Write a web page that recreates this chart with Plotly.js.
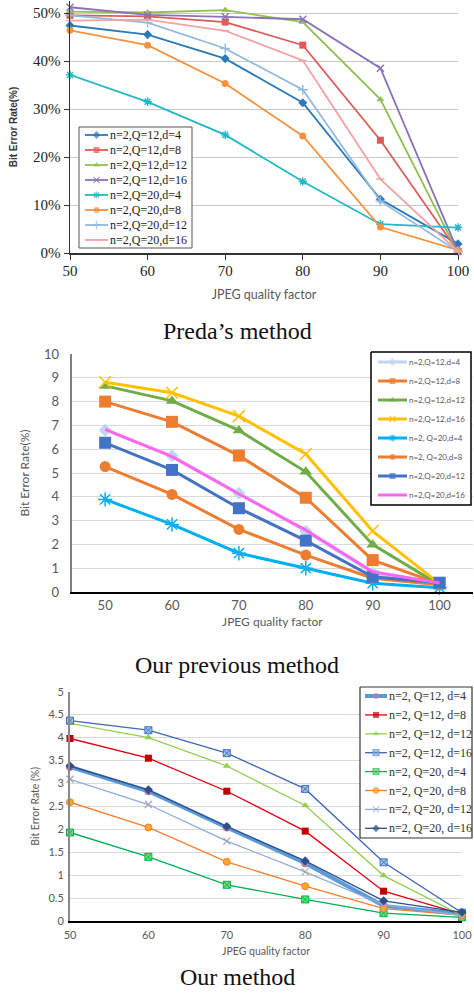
<!DOCTYPE html>
<html>
<head>
<meta charset="utf-8">
<script src="https://cdn.plot.ly/plotly-3.0.1.min.js"></script>
<style>html,body{margin:0;padding:0;background:#fff;}#chart{width:474px;height:996px;}</style>
</head>
<body>
<div id="chart"></div>
<script>
// ---------------- data ----------------
const qualityFactors = [50, 60, 70, 80, 90, 100];

// Preda's method (percent)
const namesPreda = ['n=2,Q=12,d=4','n=2,Q=12,d=8','n=2,Q=12,d=12','n=2,Q=12,d=16','n=2,Q=20,d=4','n=2,Q=20,d=8','n=2,Q=20,d=12','n=2,Q=20,d=16'];
const predaQ12d4  = [47.4, 45.5, 40.5, 31.3, 11.2, 1.9];
const predaQ12d8  = [49.5, 49.3, 48.1, 43.3, 23.5, 0.3];
const predaQ12d12 = [50.3, 50.1, 50.6, 48.1, 32.0, 0.0];
const predaQ12d16 = [51.2, 49.6, 49.2, 48.7, 38.5, 0.3];
const predaQ20d4  = [37.1, 31.5, 24.6, 14.9, 6.0, 5.3];
const predaQ20d8  = [46.4, 43.3, 35.3, 24.4, 5.4, 0.6];
const predaQ20d12 = [49.5, 48.0, 42.6, 34.0, 10.8, 0.3];
const predaQ20d16 = [48.4, 48.6, 46.3, 40.1, 15.4, 0.3];

// Our previous method
const namesPrev = ['n=2,Q=12,d=4','n=2,Q=12,d=8','n=2,Q=12,d=12','n=2,Q=12,d=16','n=2, Q=20,d=4','n=2, Q=20,d=8','n=2,Q=20,d=12','n=2,Q=20,d=16'];
const prevQ12d4  = [6.80, 5.72, 4.15, 2.55, 0.80, 0.30];
const prevQ12d8  = [8.00, 7.15, 5.73, 3.96, 1.34, 0.35];
const prevQ12d12 = [8.66, 8.03, 6.79, 5.05, 1.99, 0.30];
const prevQ12d16 = [8.81, 8.37, 7.39, 5.80, 2.56, 0.35];
const prevQ20d4  = [3.89, 2.84, 1.63, 1.00, 0.37, 0.18];
const prevQ20d8  = [5.27, 4.10, 2.63, 1.55, 0.58, 0.30];
const prevQ20d12 = [6.27, 5.13, 3.52, 2.16, 0.64, 0.39];
const prevQ20d16 = [6.83, 5.69, 4.12, 2.60, 0.85, 0.38];

// Our method
const namesOur = ['n=2, Q=12, d=4','n=2, Q=12, d=8','n=2, Q=12, d=12','n=2, Q=12, d=16','n=2, Q=20, d=4','n=2, Q=20, d=8','n=2, Q=20, d=12','n=2, Q=20, d=16'];
const ourQ12d4  = [3.36, 2.83, 2.04, 1.26, 0.33, 0.15];
const ourQ12d8  = [3.98, 3.55, 2.83, 1.96, 0.65, 0.15];
const ourQ12d12 = [4.31, 4.00, 3.38, 2.52, 0.99, 0.12];
const ourQ12d16 = [4.37, 4.16, 3.66, 2.88, 1.28, 0.18];
const ourQ20d4  = [1.93, 1.40, 0.79, 0.47, 0.17, 0.08];
const ourQ20d8  = [2.59, 2.04, 1.29, 0.76, 0.27, 0.13];
const ourQ20d12 = [3.09, 2.54, 1.74, 1.07, 0.35, 0.12];
const ourQ20d16 = [3.38, 2.86, 2.06, 1.31, 0.44, 0.19];

const predaTicks = [0, 10, 20, 30, 40, 50];
const predaTickText = ['0%', '10%', '20%', '30%', '40%', '50%'];
const captions = ["Preda\u2019s method", "Our previous method", "Our method"];
const xTitle = 'JPEG quality factor';

// ---------------- styles ----------------
const W = 474, H = 996;
const SERIF = 'Liberation Serif, Times New Roman, serif';
const SANS = 'Lato, Open Sans, sans-serif';

const predaSeries = [predaQ12d4, predaQ12d8, predaQ12d12, predaQ12d16, predaQ20d4, predaQ20d8, predaQ20d12, predaQ20d16];
const predaStyle = [
  {c:'#2a7ab8', sym:'diamond', s:7},
  {c:'#dc5c5a', sym:'square', s:7},
  {c:'#92bf55', sym:'triangle-up', s:7},
  {c:'#8a72b8', sym:'x-thin-open', s:7, lw:1.4},
  {c:'#22b8c8', sym:'asterisk-open', s:7, lw:1.4},
  {c:'#f5923e', sym:'circle', s:7},
  {c:'#92badf', sym:'cross-thin-open', s:7, lw:1.4},
  {c:'#f2a3a3', sym:'line-ew-open', s:6, lw:1.4}
];
const prevSeries = [prevQ12d4, prevQ12d8, prevQ12d12, prevQ12d16, prevQ20d4, prevQ20d8, prevQ20d12, prevQ20d16];
const prevStyle = [
  {c:'#bdd7ee', sym:'diamond', s:10},
  {c:'#ed7d31', sym:'square', s:12},
  {c:'#70ad47', sym:'triangle-up', s:11},
  {c:'#ffc000', sym:'x-thin-open', s:12, lw:1.5},
  {c:'#00b0f0', sym:'asterisk-open', s:12, lw:1.5},
  {c:'#ed7d31', sym:'circle', s:11},
  {c:'#4472c4', sym:'square', s:12},
  {c:'#ff66f0', sym:null, s:0}
];
const ourSeries = [ourQ12d4, ourQ12d8, ourQ12d12, ourQ12d16, ourQ20d4, ourQ20d8, ourQ20d12, ourQ20d16];
const ourStyle = [
  {c:'#5b9bd5', w:4, mc:'#b07fa8', sym:'circle', s:8},
  {c:'#e00010', w:1.3, mc:'#c00000', sym:'square', s:7},
  {c:'#92d050', w:1.3, mc:'#92d050', sym:'triangle-up', s:7},
  {c:'#3f67b5', w:1.3, mc:'#9dc3e6', sym:'square-x', s:7, ml:'#4472c4'},
  {c:'#00b050', w:1.3, mc:'#7edc6e', sym:'square-x', s:7, ml:'#00b050'},
  {c:'#f08030', w:1.3, mc:'#ffa726', sym:'circle', s:7, ml:'#ed7d31'},
  {c:'#8faadc', w:1.3, mc:'#a6a6a6', sym:'x-thin-open', s:7, lw:1.2},
  {c:'#2f4f8f', w:1.3, mc:'#2f4f8f', sym:'diamond', s:7}
];

const traces = [];
const shapes = [];
const annotations = [];

function markerOf(st, size, color) {
  const m = {symbol: st.sym || 'circle', size: size, color: color};
  if (st.lw) m.line = {width: st.lw, color: color};
  else if (st.ml) m.line = {width: 1, color: st.ml};
  else m.line = {width: 0};
  return m;
}

// Preda
predaSeries.forEach((ys, i) => {
  const st = predaStyle[i];
  traces.push({x: qualityFactors, y: ys, xaxis:'x', yaxis:'y', name: namesPreda[i], mode:'lines+markers',
    line:{color: st.c, width: 1.8}, marker: markerOf(st, st.s, st.c), cliponaxis:false, showlegend:false});
});
// Previous
prevSeries.forEach((ys, i) => {
  const st = prevStyle[i];
  traces.push({x: qualityFactors, y: ys, xaxis:'x2', yaxis:'y2', name: namesPrev[i], mode: st.sym ? 'lines+markers' : 'lines',
    line:{color: st.c, width: 3}, marker: markerOf(st, st.s, st.c), cliponaxis:false, showlegend:false});
});
// Ours
ourSeries.forEach((ys, i) => {
  const st = ourStyle[i];
  traces.push({x: qualityFactors, y: ys, xaxis:'x3', yaxis:'y3', name: namesOur[i], mode:'lines+markers',
    line:{color: st.c, width: st.w}, marker: markerOf(st, st.s, st.mc), cliponaxis:false, showlegend:false});
});

const layout = {
  width: W, height: H, margin:{l:0,r:0,t:0,b:0}, paper_bgcolor:'#fff', plot_bgcolor:'rgba(0,0,0,0)',
  showlegend:false, hovermode:false,
  xaxis: {domain:[70/W, 458/W], range:[50,100], anchor:'y', tickvals: qualityFactors, showgrid:false, zeroline:false,
    showline:true, linecolor:'#333', linewidth:1.5, ticks:'outside', ticklen:5, tickcolor:'#333', ticklabelstandoff:-2,
    tickfont:{family:SERIF, size:15, color:'#222'},
    title:{text:xTitle, font:{family:SANS, size:12.5, color:'#595959'}, standoff:12}},
  yaxis: {domain:[1-253/H, 1-1/H], range:[0,52.5], anchor:'x', tickmode:'array', tickvals: predaTicks, ticktext: predaTickText,
    showgrid:true, gridcolor:'#c8c8c8', gridwidth:1,
    zeroline:false, showline:true, linecolor:'#333', linewidth:1.5, ticks:'outside', ticklen:5, tickcolor:'#333',
    tickfont:{family:SERIF, size:15, color:'#222'},
    title:{text:'Bit Error Rate(%)', font:{family:'Liberation Sans, Arial, sans-serif', size:10, color:'#333', weight:'bold'}, standoff:13}},
  xaxis2: {domain:[71.7/W, 473/W], range:[45,105], anchor:'y2', tickvals: qualityFactors, showgrid:false, zeroline:false,
    showline:true, linecolor:'#000', linewidth:2, ticks:'', tickfont:{family:SANS, size:13, color:'#595959'},
    title:{text:xTitle, font:{family:SANS, size:12, color:'#595959'}, standoff:6}},
  yaxis2: {domain:[1-592/H, 1-354/H], range:[0,10], anchor:'x2', dtick:1, showgrid:true, gridcolor:'#d9d9d9', gridwidth:1,
    zeroline:false, showline:true, linecolor:'#7f7f7f', linewidth:2, ticks:'', ticklabelstandoff:8,
    tickfont:{family:SANS, size:13, color:'#595959'},
    title:{text:'Bit Error Rate(%)', font:{family:SANS, size:12, color:'#595959'}, standoff:12}},
  xaxis3: {domain:[70/W, 462/W], range:[50,100], anchor:'y3', tickvals: qualityFactors, showgrid:false, zeroline:false,
    showline:true, linecolor:'#000', linewidth:2, ticks:'', ticklabelstandoff:3, tickfont:{family:SANS, size:11, color:'#595959'},
    title:{text:xTitle, font:{family:SANS, size:10.5, color:'#595959'}, standoff:7}},
  yaxis3: {domain:[1-921/H, 1-691.7/H], range:[0,5], anchor:'x3', dtick:0.5, showgrid:true, gridcolor:'#d9d9d9', gridwidth:1,
    zeroline:false, showline:true, linecolor:'#8a8a8a', linewidth:2, ticks:'', ticklabelstandoff:2,
    tickfont:{family:SANS, size:11, color:'#595959'},
    title:{text:'Bit Error Rate (%)', font:{family:SANS, size:10.5, color:'#595959'}, standoff:7}},
  shapes: shapes, annotations: annotations
};

// ---------------- custom legends ----------------
function legendBlock(n, box, names, styles, cfg) {
  const pad = 2;
  const w = box.x1 - box.x0, h = box.y1 - box.y0;
  layout['xaxis'+n] = {domain:[(box.x0-pad)/W, Math.min(1,(box.x1+pad)/W)], range:[-pad, w+pad], visible:false, fixedrange:true, anchor:'y'+n};
  layout['yaxis'+n] = {domain:[1-(box.y1+pad)/H, 1-(box.y0-pad)/H], range:[h+pad, -pad], visible:false, fixedrange:true, anchor:'x'+n};
  traces.push({x:[0,w,w,0,0], y:[0,0,h,h,0], xaxis:'x'+n, yaxis:'y'+n, mode:'lines', fill:'toself', fillcolor:'#fff',
    line:{color:cfg.border, width:cfg.bw}, showlegend:false, hoverinfo:'skip'});
  names.forEach((nm, i) => {
    const st = styles[i];
    const yy = cfg.first + i*cfg.gap;
    const mc = st.mc || st.c;
    traces.push({x:[cfg.s0, (cfg.s0+cfg.s1)/2, cfg.s1], y:[yy,yy,yy], xaxis:'x'+n, yaxis:'y'+n,
      mode: st.sym ? 'lines+markers' : 'lines', line:{color: st.c, width: cfg.lw || st.w || 2},
      marker: markerOf(st, [0, cfg.ms, 0], mc), showlegend:false, hoverinfo:'skip', cliponaxis:false});
    annotations.push({xref:'x'+n, yref:'y'+n, x:cfg.tx, y:yy, text:nm, xanchor:'left', yanchor:'middle',
      showarrow:false, font:cfg.font});
  });
}

legendBlock(4, {x0:79, x1:192, y0:127, y1:248}, namesPreda, predaStyle,
  {first:8, gap:15, s0:6, s1:29, tx:29, ms:6, lw:1.8, border:'#555', bw:1, font:{family:SERIF, size:12, color:'#222'}});
legendBlock(5, {x0:371, x1:471, y0:352, y1:505}, namesPrev, prevStyle,
  {first:10, gap:19, s0:7, s1:36, tx:36, ms:6, lw:3, border:'#000', bw:1.5, font:{family:SANS, size:8, color:'#595959'}});
legendBlock(6, {x0:360, x1:472, y0:687, y1:838}, namesOur, ourStyle,
  {first:9, gap:18.9, s0:5, s1:27, tx:27, ms:6, border:'#333', bw:1.2, font:{family:SERIF, size:12, color:'#333'}});

// captions
const capY = [331, 665, 977];
captions.forEach((t, i) => {
  annotations.push({xref:'paper', yref:'paper', x:0.5, y:1-capY[i]/H, text:t, xanchor:'center', yanchor:'middle',
    showarrow:false, font:{family:SERIF, size:24, color:'#111'}});
});

Plotly.newPlot('chart', traces, layout, {staticPlot:true, displayModeBar:false});
</script>
</body>
</html>
